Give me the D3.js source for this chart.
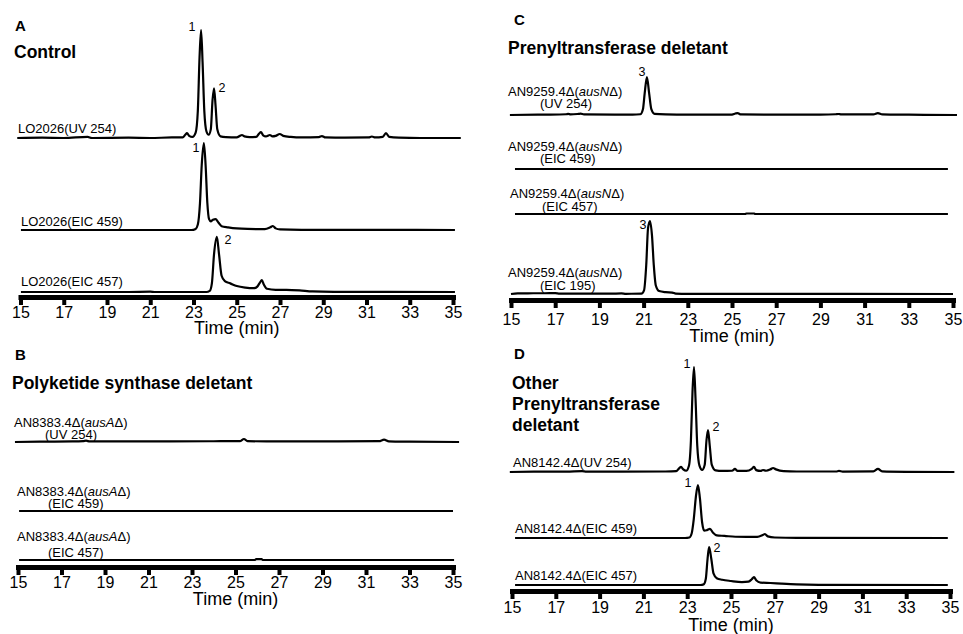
<!DOCTYPE html>
<html>
<head>
<meta charset="utf-8">
<script src="https://cdn.jsdelivr.net/npm/d3@7"></script>
<style>
  body { margin: 0; background: #fff; }
  svg { font-family: "Liberation Sans", Arial, sans-serif; }
  text { fill: #000; }
  .trace { fill: none; stroke: #000; stroke-width: 2.2; stroke-linejoin: round; }
  .panel-letter { font-weight: bold; font-size: 15px; }
  .panel-title { font-weight: bold; font-size: 17.5px; }
  .trace-label { font-size: 13px; }
  .peak-label { font-size: 12.5px; text-anchor: middle; }
  .axis-title { font-size: 18px; text-anchor: middle; }
</style>
</head>
<body>
<svg width="963" height="634"></svg>
<script>
// time axis
const timeDomain = [15, 35];
const timeTicks = [15, 17, 19, 21, 23, 25, 27, 29, 31, 33, 35];

// chromatograms: [time (min), relative intensity]
// A - control LO2026
const ctrlUV254 = [[14.85,0],[16,0.3],[17,0],[18.1,1],[18.3,0],[20,0.3],[21,0],[22,0.5],[22.5,0.5],[22.62,3],[22.7,4.6],[22.8,2],[22.95,1],
  [23.1,5],[23.2,25],[23.28,75],[23.35,100],[23.42,70],[23.5,25],[23.6,6],[23.7,3],
  [23.8,8],[23.88,35],[23.95,46],[24.02,30],[24.1,8],[24.25,1.5],[24.5,0.8],[25,0.5],[25.15,2],[25.24,2.8],[25.35,1.5],[25.6,0.8],
  [25.9,1],[26.03,4],[26.12,5.5],[26.22,2.5],[26.35,1.5],[26.53,2.8],[26.65,1.5],[26.8,2],[26.99,3.7],[27.15,2],[27.5,1],[28,0.5],
  [28.8,0.8],[28.94,1.8],[29.1,0.5],[30,0.3],[31.1,0.5],[31.25,1.4],[31.4,0.5],[31.75,1],[31.9,4.6],[32.05,1],[32.5,0.3],[33.5,0],[35.36,0]];
const ctrlEIC459 = [[15.02,0],[22.9,0],[23.1,1],[23.2,5],[23.3,25],[23.38,60],[23.48,80.5],[23.56,60],[23.64,25],[23.72,10],[23.8,8],
  [23.9,9.5],[24.02,10],[24.15,7],[24.3,3.5],[24.6,2.5],[25,1.5],[25.5,1],[26.3,0.8],[26.55,2.5],[26.67,3.7],[26.8,1.5],[27,0.5],[28,0.2],[35.09,0]];
const ctrlEIC457 = [[15.02,0],[20,0],[21,0.3],[21.2,0],[23.6,0],[23.75,1],[23.85,8],[23.95,35],[24.08,51],[24.18,35],[24.3,15],[24.45,10],
  [24.7,8],[25.0,5.5],[25.4,4],[25.8,3.5],[25.95,5],[26.08,9],[26.16,11],[26.25,7],[26.4,3],[26.8,2],[27.3,2],[27.9,1.5],[28.5,0.5],[29.5,0.2],[35.09,0]];

// B - polyketide synthase deletant
const pksUV254 = [[14.86,0],[16,0.3],[17.5,0.5],[18.0,0.8],[18.13,1.2],[18.3,0.5],[20,0.6],[22,0.6],[24,0.7],[25.2,0.8],[25.39,2.8],
  [25.55,0.8],[27,0.5],[29,0.6],[31.6,0.8],[31.83,2.2],[32.05,0.6],[33,0.3],[35.28,0]];
const pksEIC459 = [[15.05,0],[35.0,0]];
const pksEIC457 = [[15.05,0],[25.9,0],[25.95,0.8],[26.2,0.8],[26.25,0],[35.05,0]];

// C - prenyltransferase deletant
const ptUV254 = [[14.95,0],[16.5,0.5],[17.5,1],[17.58,1.5],[17.7,0.8],[18.05,1.5],[18.15,1.8],[18.3,0.8],[20.5,0.5],[20.85,1],[20.97,8],
  [21.05,30],[21.15,52],[21.25,30],[21.35,8],[21.5,1.5],[22,0.8],[23,0.5],[25,0.6],[25.15,2],[25.25,2.7],[25.4,0.8],[27,0.5],[29,0.6],
  [29.7,1],[29.8,1.4],[29.95,0.8],[31.4,0.8],[31.6,2.7],[31.8,0.8],[33,0.4],[35.18,0]];
const ptEIC459 = [[15.18,0],[34.77,0]];
const ptEIC457 = [[15.18,0],[25.6,0],[25.65,0.7],[26.0,0.7],[26.05,0],[34.77,0]];
const ptEIC195 = [[15,0],[15.3,0.8],[16,1],[16.5,1],[17,1.2],[17.2,0.5],[18.5,0.5],[19.5,0.5],[20,0.8],[20.2,0.3],[20.9,0.5],[21.02,5],
  [21.12,40],[21.2,90],[21.29,100],[21.38,80],[21.46,40],[21.55,12],[21.7,4],[22,2.5],[22.3,2],[22.45,0.6],[23,0.2],[35,0]];

// D - other prenyltransferase deletant AN8142.4
const otherUV254 = [[14.9,0],[16,0.3],[17.5,0.4],[18.2,0.8],[18.4,0.3],[20,0.3],[22,0.5],[22.5,0.8],[22.63,3.5],[22.72,4.8],[22.82,2.5],
  [22.95,1.2],[23.08,6],[23.17,30],[23.24,75],[23.31,100],[23.38,70],[23.46,25],[23.56,6],[23.68,2],[23.8,7],[23.88,30],[23.95,40],
  [24.03,25],[24.12,7],[24.3,1.5],[24.6,1],[25.05,1.2],[25.18,2.9],[25.3,1],[25.7,1],[25.95,3],[26.05,4.8],[26.15,1.8],[26.35,1],
  [26.46,1.9],[26.6,1.2],[26.8,2.5],[26.92,3.8],[27.05,2.5],[27.4,0.8],[28,0.5],[29.8,0.5],[29.93,1],[30.1,0.4],[31.5,0.6],[31.71,2.9],
  [31.9,0.6],[33,0.2],[35.2,0]];
const otherEIC459 = [[15.14,0],[22.9,0],[23.1,0.5],[23.2,4],[23.3,18],[23.4,40],[23.49,50.5],[23.58,38],[23.68,15],[23.78,7],[23.9,7.5],
  [24.04,8.6],[24.18,5],[24.35,2.5],[24.7,2],[25.2,1.2],[26.2,1],[26.45,2.8],[26.55,3.8],[26.68,1.5],[27,0.5],[28,0.1],[34.9,0]];
const otherEIC457 = [[15.14,0],[23.6,0],[23.75,0.6],[23.85,6],[23.93,25],[24.0,36],[24.1,25],[24.2,11],[24.35,6.5],[24.6,5],[25,3.8],
  [25.5,2.8],[25.8,3.2],[25.95,5.5],[26.05,7.6],[26.15,4.5],[26.35,2.3],[26.8,1.9],[27.3,1.3],[28,0.6],[29,0.2],[34.9,0]];

// labels
const panelLetters = ["A", "B", "C", "D"];
const panelTitles = [["Control"], ["Polyketide synthase deletant"], ["Prenyltransferase deletant"], ["Other", "Prenyltransferase", "deletant"]];
const traceNames = [
  [[["LO2026(UV 254)", 0]], [["LO2026(EIC 459)", 0]], [["LO2026(EIC 457)", 0]]],
  [[["AN8383.4Δ(", 0], ["ausA", 1], ["Δ)", 0]], [["AN8383.4Δ(", 0], ["ausA", 1], ["Δ)", 0]], [["AN8383.4Δ(", 0], ["ausA", 1], ["Δ)", 0]]],
  [[["AN9259.4Δ(", 0], ["ausN", 1], ["Δ)", 0]], [["AN9259.4Δ(", 0], ["ausN", 1], ["Δ)", 0]], [["AN9259.4Δ(", 0], ["ausN", 1], ["Δ)", 0]], [["AN9259.4Δ(", 0], ["ausN", 1], ["Δ)", 0]]],
  [[["AN8142.4Δ(UV 254)", 0]], [["AN8142.4Δ(EIC 459)", 0]], [["AN8142.4Δ(EIC 457)", 0]]]
];
const detectorNames = [
  [null, null, null],
  ["(UV 254)", "(EIC 459)", "(EIC 457)"],
  ["(UV 254)", "(EIC 459)", "(EIC 457)", "(EIC 195)"],
  [null, null, null]
];
// peak numbers: [panel, trace, label, time, intensity]
const peakNumbers = [
  [0, 0, "1", 23.35, 100], [0, 0, "2", 23.95, 46], [0, 1, "1", 23.48, 80.5], [0, 2, "2", 24.08, 51],
  [2, 0, "3", 21.15, 52], [2, 3, "3", 21.29, 100],
  [3, 0, "1", 23.31, 100], [3, 0, "2", 23.95, 40], [3, 1, "1", 23.49, 50.5], [3, 2, "2", 24.0, 36]
];
const axisTitle = "Time (min)";

// layout (pixels)
const layout = [
  { x: [20.5, 453], axisY: 297, pad: 2, titleY: 334, px100: 108, base: [138, 230, 292],
    letter: [15, 31], title: [14, 58], names: [[18, 133], [21, 226], [21, 286]] },
  { x: [18, 453], axisY: 567, pad: 2, titleY: 605, px100: 108, base: [442, 511, 560],
    letter: [15, 360], title: [12, 389], names: [[14, 427, 45, 439], [17, 496, 48, 508], [17, 541, 48, 557]] },
  { x: [511, 953], axisY: 300, pad: 6, titleY: 342, px100: 73, base: [115, 169, 214, 294],
    letter: [514, 25], title: [508, 54], names: [[508, 96, 540, 108], [508, 151, 540, 163], [510, 198, 542, 211], [508, 277, 540, 290]] },
  { x: [512, 950], axisY: 591, pad: 3, titleY: 631, px100: 105, base: [472, 538, 585],
    letter: [514, 359], title: [512, 389], names: [[513, 467], [515, 533], [515, 580]] }
];
const peakOffsets = [[-9, 1], [8, 4], [-8, 9], [11, 7], [-5, -1], [-7, 8], [-7, 1], [8, 1], [-10, 2], [8, 5]];

const series = [
  [ctrlUV254, ctrlEIC459, ctrlEIC457],
  [pksUV254, pksEIC459, pksEIC457],
  [ptUV254, ptEIC459, ptEIC457, ptEIC195],
  [otherUV254, otherEIC459, otherEIC457]
];

const svg = d3.select("svg");

const scales = layout.map((L) => {
  const x = d3.scaleLinear().domain(timeDomain).range(L.x);
  const ys = L.base.map((b) => d3.scaleLinear().domain([0, 100]).range([b, b - L.px100]));
  return { x, ys };
});

layout.forEach((L, p) => {
  const g = svg.append("g").attr("class", "panel");
  const { x, ys } = scales[p];

  // panel letter and title
  g.append("text").attr("class", "panel-letter")
    .attr("x", L.letter[0]).attr("y", L.letter[1]).text(panelLetters[p]);
  g.append("text").attr("class", "panel-title")
    .attr("x", L.title[0]).attr("y", L.title[1])
    .selectAll("tspan")
    .data(panelTitles[p])
    .enter().append("tspan")
      .attr("x", L.title[0])
      .attr("dy", (d, i) => i === 0 ? 0 : 21)
      .text((d) => d);

  // traces
  series[p].forEach((data, i) => {
    const line = d3.line()
      .x((d) => x(d[0]))
      .y((d) => ys[i](d[1]))
      .curve(d3.curveMonotoneX);
    g.append("path").attr("class", "trace").attr("d", line(data));

    const n = L.names[i];
    const t = g.append("text").attr("class", "trace-label").attr("x", n[0]).attr("y", n[1]);
    t.selectAll("tspan")
      .data(traceNames[p][i])
      .enter().append("tspan")
        .style("font-style", (d) => d[1] ? "italic" : "normal")
        .text((d) => d[0]);
    if (detectorNames[p][i]) {
      g.append("text").attr("class", "trace-label")
        .attr("x", n[2]).attr("y", n[3]).text(detectorNames[p][i]);
    }
  });

  // time axis
  const axis = g.append("g")
    .attr("transform", `translate(0,${L.axisY})`)
    .call(d3.axisBottom(x).tickValues(timeTicks).tickSize(8).tickSizeOuter(0).tickPadding(L.pad));
  axis.select(".domain").attr("stroke-width", 5).attr("stroke-linecap", "square");
  axis.selectAll(".tick line").attr("stroke-width", 4);
  axis.selectAll(".tick text").attr("font-size", 16).attr("font-family", "Liberation Sans, Arial, sans-serif");

  g.append("text").attr("class", "axis-title")
    .attr("x", x(25)).attr("y", L.titleY).text(axisTitle);
});

// peak numbers
svg.append("g").selectAll("text")
  .data(peakNumbers)
  .enter().append("text")
    .attr("class", "peak-label")
    .attr("x", (d, i) => scales[d[0]].x(d[3]) + peakOffsets[i][0])
    .attr("y", (d, i) => scales[d[0]].ys[d[1]](d[4]) + peakOffsets[i][1])
    .text((d) => d[2]);
</script>
</body>
</html>
